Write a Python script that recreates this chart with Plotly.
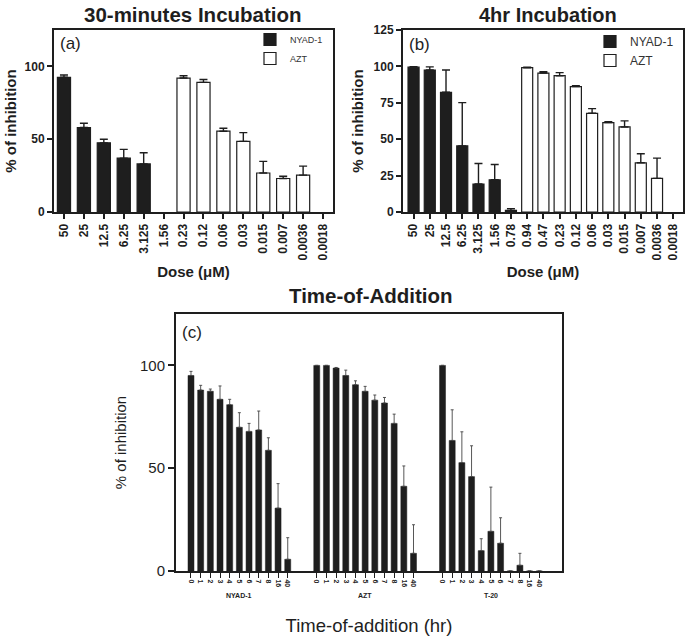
import plotly.graph_objects as go

# ---------------- data ----------------
doses_a = ["50", "25", "12.5", "6.25", "3.125", "1.56",
           "0.23", "0.12", "0.06", "0.03", "0.015", "0.007", "0.0036", "0.0018"]
nyad_a_doses = ["50", "25", "12.5", "6.25", "3.125", "1.56"]
nyad_a = [92.5, 58.0, 47.5, 37.0, 33.0, None]
nyad_a_err = [1.6, 3.0, 2.5, 6.0, 7.7, None]
azt_a_doses = ["0.23", "0.12", "0.06", "0.03", "0.015", "0.007", "0.0036", "0.0018"]
azt_a = [92.0, 89.0, 55.5, 48.5, 26.8, 23.0, 25.3, None]
azt_a_err = [1.6, 2.0, 2.0, 6.0, 8.0, 1.6, 6.2, None]

doses_b = ["50", "25", "12.5", "6.25", "3.125", "1.56", "0.78",
           "0.94", "0.47", "0.23", "0.12", "0.06", "0.03", "0.015", "0.007", "0.0036", "0.0018"]
nyad_b_doses = ["50", "25", "12.5", "6.25", "3.125", "1.56", "0.78"]
nyad_b = [99.5, 97.5, 82.2, 45.4, 19.2, 22.1, 1.1]
nyad_b_err = [0.3, 2.2, 15.3, 29.7, 14.1, 10.5, 1.2]
azt_b_doses = ["0.94", "0.47", "0.23", "0.12", "0.06", "0.03", "0.015", "0.007", "0.0036", "0.0018"]
azt_b = [99.1, 95.4, 93.6, 86.1, 67.8, 61.4, 58.4, 33.8, 23.1, None]
azt_b_err = [0.3, 0.9, 2.1, 0.7, 3.2, 0.7, 4.2, 6.2, 13.9, None]

times_c = ["0", "1", "2", "3", "4", "5", "6", "7", "8", "16", "40"]
groups_c = ["NYAD-1", "AZT", "T-20"]
nyad_c = [95.1, 88.0, 87.4, 83.5, 80.9, 69.9, 67.9, 68.6, 58.7, 30.6, 5.7]
nyad_c_err = [2.0, 2.3, 1.1, 6.5, 2.6, 7.1, 3.9, 9.2, 6.1, 11.9, 10.5]
azt_c = [100, 100, 98.7, 95.1, 90.6, 87.4, 83.1, 81.7, 71.8, 41.2, 8.6]
azt_c_err = [0, 0, 0.3, 2.6, 1.9, 2.4, 2.5, 2.7, 4.5, 9.9, 13.9]
t20_c = [100, 63.5, 52.7, 45.9, 9.9, 19.3, 13.5, 0, 2.8, 0, 0]
t20_c_err = [0, 14.9, 15.0, 15.0, 5.8, 21.5, 12.4, 0, 5.8, 0, 0]
values_c = [nyad_c, azt_c, t20_c]
errors_c = [nyad_c_err, azt_c_err, t20_c_err]

# ---------------- styling ----------------
FONT = "Liberation Sans, Arial, sans-serif"
BLACK = "#1e1e1e"
W, H = 689, 643

def px(x):
    return x / W

def py(y):
    return 1 - y / H

fig = go.Figure()

def err(vals):
    return dict(type="data", array=vals, arrayminus=[0] * len(vals), symmetric=False,
                color=BLACK, thickness=1.4, width=4)

# panel (a)
fig.add_trace(go.Bar(x=nyad_a_doses, y=nyad_a, name="NYAD-1", xaxis="x", yaxis="y",
                     marker=dict(color=BLACK, line=dict(color=BLACK, width=1.2)),
                     error_y=err(nyad_a_err), width=0.66, legend="legend"))
fig.add_trace(go.Bar(x=azt_a_doses, y=azt_a, name="AZT", xaxis="x", yaxis="y",
                     marker=dict(color="white", line=dict(color=BLACK, width=1.2)),
                     error_y=err(azt_a_err), width=0.66, legend="legend"))
# panel (b)
fig.add_trace(go.Bar(x=nyad_b_doses, y=nyad_b, name="NYAD-1", xaxis="x2", yaxis="y2",
                     marker=dict(color=BLACK, line=dict(color=BLACK, width=1.2)),
                     error_y=err(nyad_b_err), width=0.68, legend="legend2"))
fig.add_trace(go.Bar(x=azt_b_doses, y=azt_b, name="AZT", xaxis="x2", yaxis="y2",
                     marker=dict(color="white", line=dict(color=BLACK, width=1.2)),
                     error_y=err(azt_b_err), width=0.68, legend="legend2"))

# panel (c)
slot = len(times_c) + 2
tickvals_c, ticktext_c = [], []
for g, (name, vals, errs) in enumerate(zip(groups_c, values_c, errors_c)):
    xs = [g * slot + i for i in range(len(times_c))]
    tickvals_c += xs
    ticktext_c += times_c
    fig.add_trace(go.Bar(x=xs, y=vals, name=name, xaxis="x3", yaxis="y3", showlegend=False,
                         marker=dict(color=BLACK, line=dict(color=BLACK, width=0.5)),
                         width=0.62,
                         error_y=dict(type="data", array=errs, arrayminus=[0] * len(errs),
                                      symmetric=False, color="#444", thickness=0.9, width=1.5)))

axis_common = dict(showline=True, linewidth=2, linecolor=BLACK, mirror=True, automargin=False,
                   ticks="outside", tickcolor=BLACK, showgrid=False, zeroline=False)

bold_tick = dict(family=FONT, size=12, color=BLACK, weight="bold")

fig.update_layout(
    width=W, height=H, margin=dict(l=0, r=0, t=0, b=0),
    paper_bgcolor="white", plot_bgcolor="white", barmode="overlay",
    font=dict(family=FONT, color=BLACK),
    xaxis=dict(axis_common, domain=[px(54), px(333)], type="category",
               categoryorder="array", categoryarray=doses_a, range=[-0.5, 13.5],
               tickangle=-90, ticklen=5, tickwidth=1.5, tickfont=bold_tick,
               title=dict(text="Dose (μM)", font=dict(family=FONT, size=15, weight="bold"), standoff=7),
               anchor="y"),
    yaxis=dict(axis_common, domain=[py(212), py(30)], range=[0, 125], tickvals=[0, 50, 100],
               ticklen=5, tickwidth=1.5, tickfont=bold_tick,
               title=dict(text="% of inhibition", font=dict(family=FONT, size=15, weight="bold"), standoff=4),
               anchor="x"),
    xaxis2=dict(axis_common, domain=[px(403), px(683)], type="category",
                categoryorder="array", categoryarray=doses_b, range=[-0.65, 16.6],
                tickangle=-90, ticklen=5, tickwidth=1.5, tickfont=bold_tick,
                title=dict(text="Dose (μM)", font=dict(family=FONT, size=15, weight="bold"), standoff=7),
                anchor="y2"),
    yaxis2=dict(axis_common, domain=[py(212), py(30)], range=[0, 125],
                tickvals=[0, 25, 50, 75, 100, 125],
                ticklen=5, tickwidth=1.5, tickfont=bold_tick,
                title=dict(text="% of inhibition", font=dict(family=FONT, size=15, weight="bold"), standoff=6),
                anchor="x2"),
    xaxis3=dict(axis_common, domain=[px(176), px(562)], range=[-1.55, 38.35],
                tickvals=tickvals_c, ticktext=ticktext_c, tickangle=90,
                ticklen=5, tickwidth=1.2,
                tickfont=dict(family=FONT, size=7, color=BLACK, weight="bold"),
                title=dict(text="Time-of-addition (hr)", font=dict(family=FONT, size=18.5), standoff=33),
                anchor="y3"),
    yaxis3=dict(axis_common, domain=[py(571), py(314)], range=[0, 125], tickvals=[0, 50, 100],
                ticklen=6, tickwidth=1.5, tickfont=dict(family=FONT, size=15, color=BLACK),
                title=dict(text="% of inhibition", font=dict(family=FONT, size=15), standoff=10),
                anchor="x3"),
    legend=dict(x=px(250), y=py(25), xanchor="left", yanchor="top", bgcolor="rgba(0,0,0,0)",
                font=dict(family=FONT, size=9, color="#333"), tracegroupgap=6,
                traceorder="normal"),
    legend2=dict(x=px(590), y=py(27), xanchor="left", yanchor="top", bgcolor="rgba(0,0,0,0)",
                 font=dict(family=FONT, size=12, color="#333"), tracegroupgap=2,
                 traceorder="normal"),
)

annotations = [
    dict(text="<b>30-minutes Incubation</b>", x=px(193), y=py(15), font=dict(size=20.5)),
    dict(text="<b>4hr Incubation</b>", x=px(548), y=py(15), font=dict(size=20)),
    dict(text="<b>Time-of-Addition</b>", x=px(371), y=py(295), font=dict(size=20.5)),
    dict(text="(a)", x=px(70), y=py(43), font=dict(size=17)),
    dict(text="(b)", x=px(420), y=py(45), font=dict(size=17)),
    dict(text="(c)", x=px(192), y=py(332), font=dict(size=17)),
]
for a in annotations:
    a.update(xref="paper", yref="paper", showarrow=False, xanchor="center", yanchor="middle")
    a["font"].update(family=FONT, color=BLACK)

for g, name in enumerate(groups_c):
    annotations.append(dict(text="<b>" + name + "</b>", x=g * slot + (len(times_c) - 1) / 2,
                            xref="x3", y=py(601), yref="paper", showarrow=False,
                            font=dict(family=FONT, size=7, color=BLACK)))

fig.update_layout(annotations=annotations)
fig.write_html("out.html", config={"displayModeBar": False},
               post_script="document.body.style.margin='0';")
